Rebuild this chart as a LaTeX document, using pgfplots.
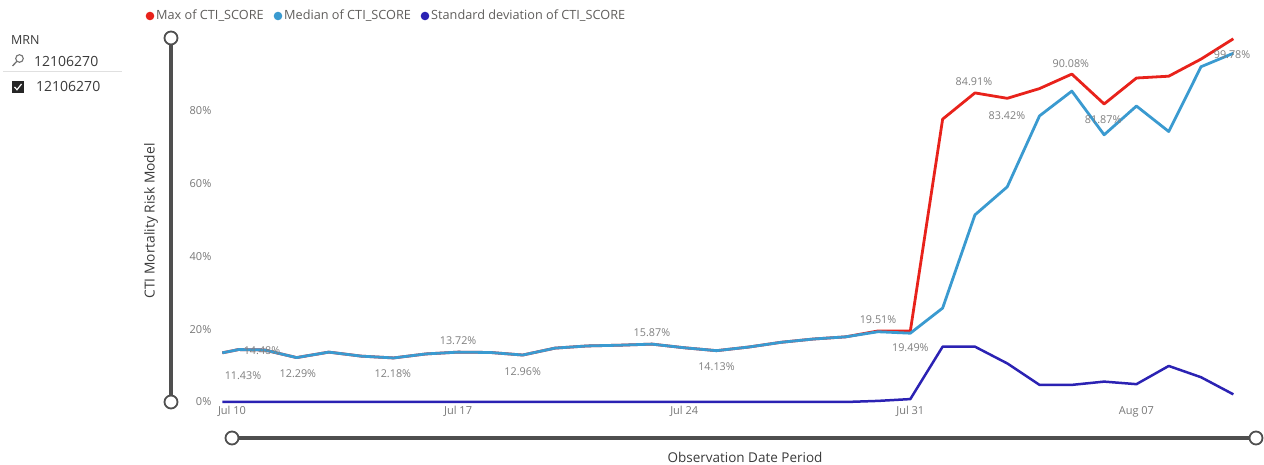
\documentclass[border=0pt]{standalone}
\usepackage{pgfplots}
\pgfplotsset{compat=1.18}
\usepackage{fontspec}
\setmainfont{Open Sans}

\definecolor{maxred}{HTML}{E8221B}
\definecolor{medblue}{HTML}{3A9AD0}
\definecolor{sdblue}{HTML}{2B22B3}
\definecolor{ticktxt}{HTML}{777777}
\definecolor{lbltxt}{HTML}{7F7F7F}
\definecolor{legtxt}{HTML}{605E5C}
\definecolor{titletxt}{HTML}{3A3A3A}
\definecolor{slider}{HTML}{4F4F4F}

\tikzset{lbl/.style={font=\fontsize{10.8}{12}\selectfont, text=lbltxt},
         leg/.style={anchor=west, inner sep=0, text=legtxt, font=\fontsize{12.7}{14}\selectfont}}

\begin{document}
\begin{tikzpicture}[x=1pt,y=1pt]
\useasboundingbox (0,0) rectangle (1264,465);

\begin{axis}[
    at={(215.85pt,63pt)}, anchor=south west,
    scale only axis, width=1030.4pt, height=371.3pt,
    xmin=-0.5, xmax=31.4, ymin=0, ymax=102,
    axis line style={draw=none},
    clip=false,
    major tick length=0pt,
    xtick={0,7,14,21,28},
    xticklabels={Jul 10,Jul 17,Jul 24,Jul 31,Aug 07},
    ytick={0,20,40,60,80},
    yticklabels={0\%,20\%,40\%,60\%,80\%},
    tick label style={font=\fontsize{11}{12}\selectfont, text=ticktxt},
    xticklabel style={yshift=-1pt},
    yticklabel style={xshift=-1pt},
]
% max of CTI_SCORE (hidden under the median until Jul 30)
\addplot[maxred, line width=2.8pt, line join=round] coordinates {
    (-0.3,13.5) (0.2,14.4) (1,14.3) (2,12.2) (3,13.7) (4,12.6) (5,12.1)
    (6,13.2) (7,13.7) (8,13.6) (9,12.9) (10,14.8) (11,15.4) (12,15.6)
    (13,15.9) (14,14.9) (15,14.1) (16,15.1) (17,16.4) (18,17.3) (19,17.9)
    (20,19.51) (21,19.49) (22,77.7) (23,84.91) (24,83.42) (25,86.1)
    (26,90.08) (27,81.87) (28,89.0) (29,89.5) (30,94.2) (31,99.78)
};
% median of CTI_SCORE
\addplot[medblue, line width=2.8pt, line join=round] coordinates {
    (-0.3,13.5) (0.2,14.4) (1,14.3) (2,12.2) (3,13.7) (4,12.6) (5,12.1)
    (6,13.2) (7,13.7) (8,13.6) (9,12.9) (10,14.8) (11,15.4) (12,15.6)
    (13,15.9) (14,14.9) (15,14.1) (16,15.1) (17,16.4) (18,17.3) (19,17.9)
    (20,19.3) (21,18.9) (22,25.8) (23,51.4) (24,59.1) (25,78.6)
    (26,85.4) (27,73.4) (28,81.3) (29,74.3) (30,92.1) (31,95.8)
};
% standard deviation of CTI_SCORE
\addplot[sdblue, line width=2.5pt, line join=round] coordinates {
    (-0.3,0) (5,0) (10,0) (15,0) (19,0) (20,0.3) (21,0.8)
    (22,15.2) (23,15.2) (24,10.6) (25,4.7) (26,4.7) (27,5.6)
    (28,4.9) (29,9.9) (30,6.8) (31,2.1)
};

% data labels
\node[lbl] at (axis cs:0.34,7.1) {11.43\%};
\node[lbl] at (axis cs:0.93,14.0) {14.48\%};
\node[lbl] at (axis cs:2.04,7.7) {12.29\%};
\node[lbl] at (axis cs:4.98,7.7) {12.18\%};
\node[lbl] at (axis cs:7.0,16.8) {13.72\%};
\node[lbl] at (axis cs:9.0,8.2) {12.96\%};
\node[lbl] at (axis cs:13.0,19.0) {15.87\%};
\node[lbl] at (axis cs:15.0,9.6) {14.13\%};
\node[lbl] at (axis cs:20.0,22.5) {19.51\%};
\node[lbl] at (axis cs:21.0,14.8) {19.49\%};
\node[lbl] at (axis cs:22.97,87.9) {84.91\%};
\node[lbl] at (axis cs:23.99,78.6) {83.42\%};
\node[lbl] at (axis cs:25.97,92.9) {90.08\%};
\node[lbl] at (axis cs:26.97,77.5) {81.87\%};
\node[lbl] at (axis cs:30.96,95.3) {99.78\%};
\end{axis}

% legend
\fill[maxred] (150,449) circle (4.3);
\node[leg] at (156,449) {Max of CTI\_SCORE};
\fill[medblue] (278,449) circle (4.3);
\node[leg] at (284,449) {Median of CTI\_SCORE};
\fill[sdblue] (425,449) circle (4.3);
\node[leg] at (431,449) {Standard deviation of CTI\_SCORE};

% slicer panel
\node[anchor=west, inner sep=0, text=titletxt, font=\fontsize{12.5}{14}\selectfont] at (11,425) {MRN};
\draw[slider!80, line width=1.1pt] (19.5,406.5) circle (3.8);
\draw[slider!80, line width=1.3pt] (16.8,403.6) -- (12.5,399);
\node[anchor=west, inner sep=0, text=titletxt, font=\fontsize{14}{16}\selectfont] at (34,403) {12106270};
\draw[black!12, line width=1pt] (3,393) -- (122,393);
\fill[black!85] (12,372) rectangle (24,384);
\draw[white, line width=1.2pt] (14.5,378) -- (17,375.3) -- (21.5,381);
\node[anchor=west, inner sep=0, text=titletxt, font=\fontsize{14}{16}\selectfont] at (36,378) {12106270};

% range sliders
\draw[slider, line width=4pt] (171,427) -- (171,63);
\draw[slider, line width=1.8pt, fill=white] (171,427) circle (6.5);
\draw[slider, line width=1.8pt, fill=white] (171,63) circle (6.5);
\draw[slider, line width=4pt] (232,27) -- (1256,27);
\draw[slider, line width=1.8pt, fill=white] (232,27) circle (6.5);
\draw[slider, line width=1.8pt, fill=white] (1256,27) circle (6.5);

% axis titles
\node[rotate=90, text=titletxt, font=\fontsize{13.8}{15}\selectfont] at (151,244) {CTI Mortality Risk Model};
\node[text=titletxt, font=\fontsize{13.5}{15}\selectfont] at (745,8) {Observation Date Period};
\end{tikzpicture}
\end{document}
